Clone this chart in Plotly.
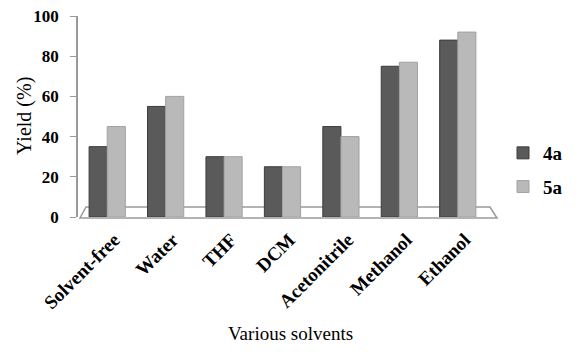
import plotly.graph_objects as go

categories = ["Solvent-free", "Water", "THF", "DCM", "Acetonitrile", "Methanol", "Ethanol"]
yield_4a = [35, 55, 30, 25, 45, 75, 88]
yield_5a = [45, 60, 30, 25, 40, 77, 92]
y_ticks = [0, 20, 40, 60, 80, 100]

SERIF = "Liberation Serif, Times New Roman, Times, serif"

# page body has an 8px margin; lay the figure out in reference pixel space
OFF = 8
W, H = 585 - OFF, 359 - OFF
L, T = 78 - OFF, 16 - OFF
PLOT_R, PLOT_B = 487 - OFF, 217 - OFF
R, B = W - PLOT_R, H - PLOT_B
pw, ph = PLOT_R - L, PLOT_B - T

def px(x):
    return (x - OFF - L) / pw

def py(y):
    return (PLOT_B - (y - OFF)) / ph

fig = go.Figure()
fig.add_trace(go.Bar(name="4a", x=categories, y=yield_4a,
                     marker=dict(color="#5a5a5a", line=dict(color="#3c3c3c", width=1)),
                     legendgroup="a"))
fig.add_trace(go.Bar(name="5a", x=categories, y=yield_5a,
                     marker=dict(color="#b9b9b9", line=dict(color="#a2a2a2", width=1)),
                     legendgroup="b"))

floor = (f"M {px(80)} {py(218)} L {px(497)} {py(218)} L {px(490)} {py(207)} "
         f"L {px(86)} {py(207)} Z")
fig.add_shape(type="path", path=floor, xref="paper", yref="paper",
              line=dict(color="#9a9a9a", width=1.5), fillcolor="rgba(255,255,255,0)",
              layer="below")

fig.add_annotation(text="Various solvents", xref="paper", yref="paper",
                   x=px(290), y=py(333), xanchor="center", yanchor="middle", showarrow=False,
                   font=dict(family=SERIF, size=19, color="black"))
fig.add_annotation(text="Yield (%)", xref="paper", yref="paper", textangle=-90,
                   x=px(25), y=py(116), xanchor="center", yanchor="middle", showarrow=False,
                   font=dict(family=SERIF, size=20, color="black"))

fig.update_layout(
    width=W, height=H,
    margin=dict(l=L, r=R, t=T, b=B, autoexpand=False),
    paper_bgcolor="white", plot_bgcolor="white",
    barmode="group", bargap=0.38, bargroupgap=0.0,
    font=dict(family=SERIF, color="black"),
    legend=dict(xref="container", yref="container", x=(503 - OFF) / W, y=1 - (170 - OFF) / H,
                xanchor="left", yanchor="middle",
                font=dict(family=SERIF, size=19, color="black", weight="bold"),
                tracegroupgap=6, itemwidth=30, traceorder="grouped",
                bgcolor="rgba(0,0,0,0)"),
    showlegend=True,
)
fig.update_xaxes(showline=False, showgrid=False, ticks="", tickangle=-45, automargin=False,
                 ticklabeloverflow="allow", ticklabelshift=7, ticklabelstandoff=7,
                 tickfont=dict(family=SERIF, size=19, color="black", weight="bold"))
fig.update_yaxes(range=[0, 100], tickvals=y_ticks, showgrid=False, zeroline=False,
                 automargin=False, ticklabeloverflow="allow",
                 showline=True, linecolor="#9a9a9a", linewidth=1.5,
                 ticks="outside", ticklen=6, tickcolor="#9a9a9a", ticklabelstandoff=8,
                 tickfont=dict(family=SERIF, size=17, color="black", weight="bold"))

fig.write_html("out.html")
